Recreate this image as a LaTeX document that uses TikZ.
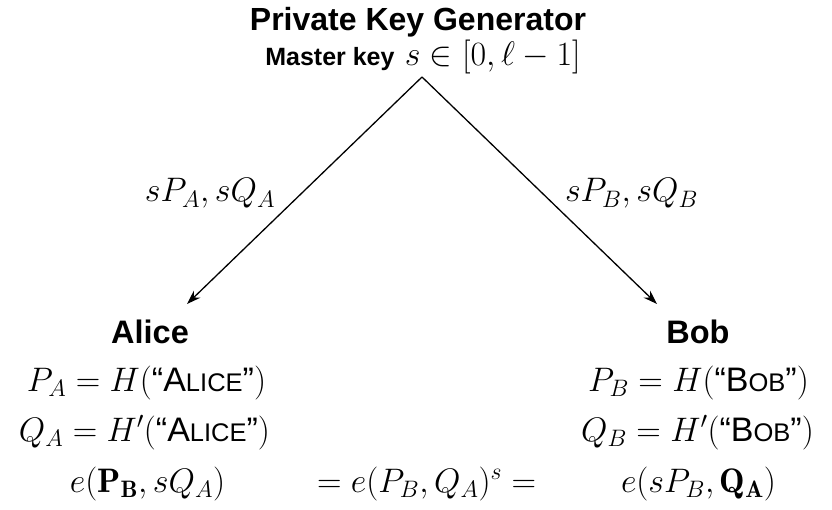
\RequirePackage{fix-cm}
\documentclass[tikz,border=0pt]{standalone}
\usepackage{amsmath}
\usepackage{fontspec}
\newfontfamily\hv{Liberation Sans}
\usetikzlibrary{arrows.meta}
\newcommand{\qsc}[2]{\mbox{\hv “#1{\fontsize{25.5}{30}\selectfont #2}”}}
\tikzset{
  mth/.style={inner sep=0pt, anchor=base, font=\fontsize{34}{40}\selectfont},
  ttl/.style={inner sep=0pt, anchor=base, font=\hv\bfseries\fontsize{32}{38}\selectfont},
  who/.style={inner sep=0pt, anchor=base, font=\hv\bfseries\fontsize{32.5}{38}\selectfont},
  arr/.style={line width=1.3pt, -{Stealth[length=14pt,width=9.5pt]}}
}
\begin{document}
\begin{tikzpicture}[x=1pt,y=-1pt]
\useasboundingbox (0,0) rectangle (832,510);
\node[ttl] (pkg) at (418,31) {Private Key Generator};
\node[inner sep=0pt, anchor=base, font=\fontsize{34}{40}\selectfont] (mk) at (423,66)
  {{\hv\bfseries\fontsize{25}{30}\selectfont Master key} $s\in[0,\ell-1]$};
\coordinate (apex) at (422,77);
\coordinate (ta) at (187,304);
\coordinate (tb) at (657,304);
\draw[arr] (apex) -- (ta);
\draw[arr] (apex) -- (tb);
\node[mth] (la) at (210,202) {$sP_A, sQ_A$};
\node[mth] (lb) at (631.5,202) {$sP_B, sQ_B$};
\node[who] (alice) at (150,344) {Alice};
\node[who] (bob) at (698,344) {Bob};
\node[mth] (pa) at (146.5,391) {$P_A = H(\qsc{A}{LICE})$};
\node[mth] (qa) at (144.5,441) {$Q_A = H'(\qsc{A}{LICE})$};
\node[mth] (ea) at (147.5,492) {$e(\mathbf{P_B}, sQ_A)$};
\node[mth] (mid) at (426.5,492) {$= e(P_B, Q_A)^s =$};
\node[mth] (pb) at (698.5,391) {$P_B = H(\qsc{B}{OB})$};
\node[mth] (qb) at (697.5,441) {$Q_B = H'(\qsc{B}{OB})$};
\node[mth] (eb) at (698.5,492) {$e(sP_B, \mathbf{Q_A})$};
\end{tikzpicture}
\end{document}
